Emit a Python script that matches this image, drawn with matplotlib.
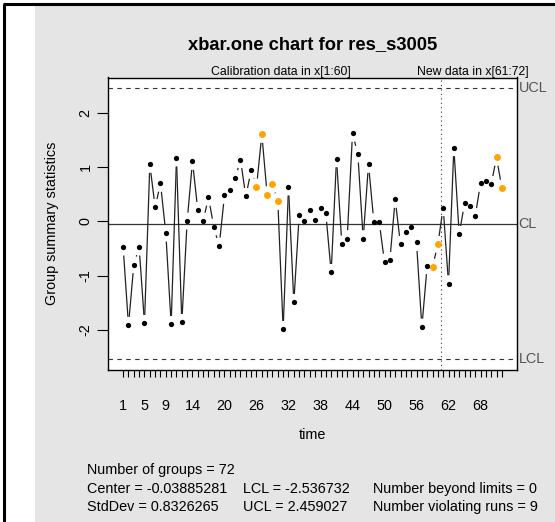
import matplotlib
matplotlib.use("Agg")
import matplotlib.pyplot as plt
import numpy as np
from matplotlib.collections import LineCollection
from matplotlib.lines import Line2D
from matplotlib.patches import Rectangle

# Individual observations (xbar.one statistics), calibration 1..60, new 61..72
stats_calib = [-0.474, -1.920, -0.800, -0.474, -1.885, 1.054, 0.259, 0.702, -0.216, -1.904,
               1.171, -1.867, 0.006, 1.109, 0.203, 0.006, 0.444, -0.105, -0.456, 0.481,
               0.573, 0.795, 1.140, 0.462, 0.943, 0.635, 1.608, 0.493, 0.684, 0.370,
               -1.996, 0.635, -1.497, 0.111, 0.006, 0.203, 0.031, 0.240, 0.148, -0.943,
               1.158, -0.419, -0.320, 1.627, 1.245, -0.320, 1.054, -0.006, -0.006, -0.752,
               -0.721, 0.407, -0.425, -0.203, -0.111, -0.388, -1.953, -0.819, -0.844, -0.425]
stats_new = [0.253, -1.152, 1.362, -0.240, 0.333, 0.290, 0.092, 0.702, 0.739, 0.684,
             1.183, 0.616]
violating = [26, 27, 28, 29, 30, 59, 60, 71, 72]

center = -0.03885281
std_dev = 0.8326265
lcl = -2.536732
ucl = 2.459027
n_groups = 72
n_beyond = 0
n_violating = 9

tick_labels_shown = [1, 5, 9, 14, 20, 26, 32, 38, 44, 50, 56, 62, 68]

plt.rcParams['font.family'] = ['Liberation Sans', 'DejaVu Sans']
plt.rcParams['axes.unicode_minus'] = False

W, H = 555, 522
fig = plt.figure(figsize=(W / 100, H / 100), dpi=100)
fig.patch.set_facecolor('white')

# margin background and frame
fig.add_artist(Rectangle((35 / W, 0), 1 - 35 / W, 1 - 5 / H, transform=fig.transFigure,
                         facecolor='#E5E5E5', edgecolor='none', zorder=-10))
fig.add_artist(Line2D([4 / W, 4 / W], [0, 1 - 4 / H], transform=fig.transFigure,
                      color='black', lw=2.2, solid_capstyle='butt'))
fig.add_artist(Line2D([3 / W, 1], [1 - 4 / H, 1 - 4 / H], transform=fig.transFigure,
                      color='black', lw=2.2, solid_capstyle='butt'))

left, right, top, bottom = 108, 517, 77.5, 369.5
ax = fig.add_axes([left / W, 1 - bottom / H, (right - left) / W, (bottom - top) / H])
ax.set_facecolor('white')

values = np.array(stats_calib + stats_new)
idx = np.arange(1, len(values) + 1)

xr = idx.max() - idx.min()
ax.set_xlim(idx.min() - 0.04 * xr, idx.max() + 0.04 * xr)
yr = ucl - lcl
ax.set_ylim(lcl - 0.04 * yr, ucl + 0.04 * yr)

for s in ax.spines.values():
    s.set_linewidth(1.0)
    s.set_color('black')

# control lines
ax.axhline(center, color='#333333', lw=0.9, zorder=1)
ax.axhline(ucl, color='#333333', lw=0.8, ls=(0, (4, 4)), zorder=1)
ax.axhline(lcl, color='#333333', lw=0.8, ls=(0, (4, 4)), zorder=1)
ax.axvline(len(stats_calib) + 0.5, color='#333333', lw=0.8, ls=(0, (1, 3)), zorder=1)

# connecting segments with a gap around each point
fig.canvas.draw()
pix = ax.transData.transform(np.column_stack([idx, values]))
gap = 8.5
segs = []
for a, b in zip(pix[:-1], pix[1:]):
    d = b - a
    L = np.hypot(*d)
    if L > 2 * gap:
        u = d / L
        segs.append(ax.transData.inverted().transform(np.array([a + u * gap, b - u * gap])))
ax.add_collection(LineCollection(segs, colors='#222222', linewidths=0.9, zorder=2))

is_bad = np.isin(idx, violating)
ax.scatter(idx[~is_bad], values[~is_bad], s=3.8 ** 2, color='black', zorder=3, linewidths=0)
ax.scatter(idx[is_bad], values[is_bad], s=5.0 ** 2, color='#FFA500', zorder=3, linewidths=0)

# axes ticks
ax.set_xticks(idx)
ax.set_xticklabels([str(i) if i in tick_labels_shown else '' for i in idx])
ax.tick_params(axis='x', length=5, width=0.8, pad=16, labelsize=10.4, direction='out')
ax.set_yticks([-2, -1, 0, 1, 2])
ax.tick_params(axis='y', length=8, width=0.8, pad=3, labelsize=10.4, direction='out')
for lab in ax.get_yticklabels():
    lab.set_rotation(90)
    lab.set_va('center')
    lab.set_ha('right')

ax.set_xlabel('time', fontsize=10.4, labelpad=11)
ax.set_ylabel('Group summary statistics', fontsize=10.4, labelpad=14)

# limit labels
for val, name in [(ucl, 'UCL'), (center, 'CL'), (lcl, 'LCL')]:
    ax.text(1.004, val, name, transform=ax.get_yaxis_transform(), ha='left', va='center',
            fontsize=10.4, color='#555555', clip_on=False)

ax.text((1 + len(stats_calib)) / 2, 1.0, 'Calibration data in x[1:60]',
        transform=ax.get_xaxis_transform(), ha='center', va='bottom', fontsize=8.8)
ax.text((len(stats_calib) + 1 + len(values)) / 2, 1.0, 'New data in x[61:72]',
        transform=ax.get_xaxis_transform(), ha='center', va='bottom', fontsize=8.8)

fig.text(312.5 / W, 1 - 45 / H, 'xbar.one chart for res_s3005', ha='center', va='center',
         fontsize=13.2, fontweight='bold')

# summary statistics
rows = [1 - 470 / H, 1 - 489 / H, 1 - 507 / H]
fs = 10.4
fig.text(87 / W, rows[0], f'Number of groups = {n_groups}', va='center', fontsize=fs)
fig.text(87 / W, rows[1], f'Center = {center}', va='center', fontsize=fs)
fig.text(87 / W, rows[2], f'StdDev = {std_dev}', va='center', fontsize=fs)
fig.text(243 / W, rows[1], f'LCL = {lcl}', va='center', fontsize=fs)
fig.text(243 / W, rows[2], f'UCL = {ucl}', va='center', fontsize=fs)
fig.text(373 / W, rows[1], f'Number beyond limits = {n_beyond}', va='center', fontsize=fs)
fig.text(373 / W, rows[2], f'Number violating runs = {n_violating}', va='center', fontsize=fs)

fig.savefig('out.png', dpi=100)
